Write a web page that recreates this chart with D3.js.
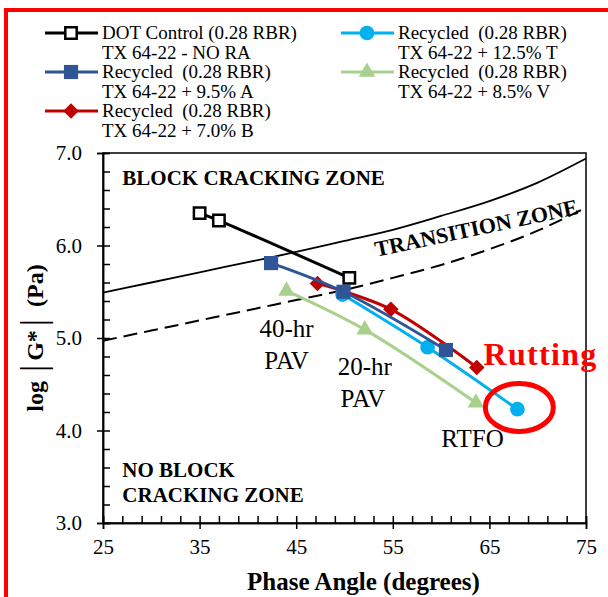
<!DOCTYPE html>
<html>
<head>
<meta charset="utf-8">
<script src="https://cdn.jsdelivr.net/npm/d3@7"></script>
<style>
  body { margin: 0; background: #fff; }
  text { font-family: "Liberation Serif", "Times New Roman", serif; white-space: pre; }
</style>
</head>
<body>
<div id="chart"></div>
<script>
// zone boundary curves (phase angle vs log|G*|)
const zoneAngle = [25, 30, 35, 40, 45, 50, 55, 60, 65, 70, 75];
const zoneUpper = [5.49, 5.60, 5.71, 5.82, 5.93, 6.05, 6.17, 6.32, 6.48, 6.68, 6.94];
const zoneLower = [4.97, 5.08, 5.19, 5.30, 5.41, 5.52, 5.65, 5.79, 5.96, 6.16, 6.41];

// binder series (40-hr PAV, 20-hr PAV, RTFO)
const dotAngle = [35.0, 37.0, 50.5];
const dotLogG = [6.35, 6.27, 5.65];
const aAngle = [42.4, 49.9, 60.5];
const aLogG = [5.81, 5.50, 4.87];
const tAngle = [49.8, 58.6, 67.9];
const tLogG = [5.47, 4.90, 4.23];
const vAngle = [44.0, 52.1, 63.6];
const vLogG = [5.51, 5.09, 4.30];
const bAngle = [47.2, 54.8, 63.7];
const bLogG = [5.59, 5.31, 4.68];

const xMajor = [25, 35, 45, 55, 65, 75];
const yMajor = [3, 4, 5, 6, 7];

const width = 608, height = 597;
const m = { top: 153, right: 22, bottom: 74, left: 103 };

const svg = d3.select('#chart').append('svg')
	.attr('width', width)
	.attr('height', height);

// red frame round the figure
svg.append('rect')
	.attr('x', 6).attr('y', 10)
	.attr('width', 640).attr('height', 640)
	.attr('fill', 'none')
	.attr('stroke', '#ff0000')
	.attr('stroke-width', 4);

const x = d3.scaleLinear().domain([25, 75]).range([m.left, width - m.right]);
const y = d3.scaleLinear().domain([3, 7]).range([height - m.bottom, m.top]);

const series = [
	{ name: 'DOT Control (0.28 RBR)', sub: 'TX 64-22 - NO RA', xs: dotAngle, ys: dotLogG, color: '#000000', marker: 'open' },
	{ name: 'Recycled  (0.28 RBR)', sub: 'TX 64-22 + 12.5% T', xs: tAngle, ys: tLogG, color: '#00b0f0', marker: 'circle' },
	{ name: 'Recycled  (0.28 RBR)', sub: 'TX 64-22 + 8.5% V', xs: vAngle, ys: vLogG, color: '#a9d18e', marker: 'triangle' },
	{ name: 'Recycled  (0.28 RBR)', sub: 'TX 64-22 + 7.0% B', xs: bAngle, ys: bLogG, color: '#c00000', marker: 'diamond' },
	{ name: 'Recycled  (0.28 RBR)', sub: 'TX 64-22 + 9.5% A', xs: aAngle, ys: aLogG, color: '#2f5597', marker: 'square' }
];

function drawMarker(g, type, color) {
	if (type === 'open') {
		g.append('path').attr('d', d3.symbol(d3.symbolSquare, 130)())
			.attr('fill', '#fff').attr('stroke', color).attr('stroke-width', 2.5);
	} else if (type === 'square') {
		g.append('path').attr('d', d3.symbol(d3.symbolSquare, 200)()).attr('fill', color);
	} else if (type === 'circle') {
		g.append('path').attr('d', d3.symbol(d3.symbolCircle, 170)()).attr('fill', color);
	} else if (type === 'triangle') {
		g.append('path').attr('d', d3.symbol(d3.symbolTriangle, 120)()).attr('fill', color);
	} else if (type === 'diamond') {
		g.append('path').attr('d', d3.symbol(d3.symbolSquare, 120)())
			.attr('transform', 'rotate(45)').attr('fill', color);
	}
}

// plot box
svg.append('rect')
	.attr('x', m.left).attr('y', m.top)
	.attr('width', x(75) - x(25)).attr('height', y(3) - y(7))
	.attr('fill', 'none').attr('stroke', '#000').attr('stroke-width', 1.5);

// zone boundaries
const zoneLine = d3.line()
	.x((d, i) => x(zoneAngle[i]))
	.y(d => y(d))
	.curve(d3.curveMonotoneX);

svg.append('path')
	.attr('d', zoneLine(zoneUpper))
	.attr('fill', 'none').attr('stroke', '#000').attr('stroke-width', 1.8);

svg.append('path')
	.attr('d', zoneLine(zoneLower))
	.attr('fill', 'none').attr('stroke', '#000').attr('stroke-width', 2)
	.attr('stroke-dasharray', '14,7');

// series lines + markers
const seriesLine = d3.line()
	.x(d => x(d[0]))
	.y(d => y(d[1]))
	.curve(d3.curveCatmullRom.alpha(0.5));

series.forEach(s => {
	const pts = s.xs.map((v, i) => [v, s.ys[i]]);
	svg.append('path')
		.attr('d', seriesLine(pts))
		.attr('fill', 'none')
		.attr('stroke', s.color)
		.attr('stroke-width', 3);
	pts.forEach(p => {
		const g = svg.append('g').attr('transform', `translate(${x(p[0])},${y(p[1])})`);
		drawMarker(g, s.marker, s.color);
	});
});

// axes: major ticks cross the line, minor ticks point inward
svg.append('g')
	.attr('transform', `translate(0,${y(3)})`)
	.call(d3.axisBottom(x).tickValues(xMajor).tickSize(6).tickPadding(10).tickFormat(d3.format('d')));
svg.append('g')
	.attr('transform', `translate(0,${y(3)})`)
	.call(d3.axisBottom(x).tickValues(d3.range(25, 76, 2)).tickSize(-7).tickFormat(''));

svg.append('g')
	.attr('transform', `translate(${x(25)},0)`)
	.call(d3.axisLeft(y).tickValues(yMajor).tickSize(6).tickPadding(15).tickFormat(d3.format('.1f')));
svg.append('g')
	.attr('transform', `translate(${x(25)},0)`)
	.call(d3.axisLeft(y).tickValues(d3.range(30, 71, 2).map(v => v / 10)).tickSize(-7).tickFormat(''));

svg.selectAll('.domain').attr('stroke', '#000').attr('stroke-width', 1.5);
svg.selectAll('.tick line').attr('stroke', '#000').attr('stroke-width', 1.5);
svg.selectAll('.tick text')
	.attr('font-family', '"Liberation Serif", serif')
	.attr('font-size', 21)
	.attr('fill', '#000');

// axis titles
svg.append('text')
	.attr('x', 247)
	.attr('y', 590)
	.attr('font-size', 25)
	.attr('font-weight', 'bold')
	.text('Phase Angle (degrees)');

const yTitle = svg.append('text')
	.attr('transform', `translate(43,${(y(3) + y(7)) / 2}) rotate(-90)`)
	.attr('text-anchor', 'middle')
	.attr('font-size', 24)
	.attr('font-weight', 'bold');
yTitle.append('tspan').text('log');
yTitle.append('tspan').attr('dx', 9).attr('font-size', 36).attr('font-weight', 'normal').attr('dy', 2).text('|');
yTitle.append('tspan').attr('dx', 4).attr('dy', -2).text('G*');
yTitle.append('tspan').attr('dx', 4).attr('font-size', 36).attr('font-weight', 'normal').attr('dy', 2).text('|');
yTitle.append('tspan').attr('dx', 12).attr('dy', -2).text('(Pa)');

// zone labels
const bold = (t, xv, yv, size) => svg.append('text')
	.attr('x', x(xv)).attr('y', y(yv))
	.attr('font-size', size).attr('font-weight', 'bold')
	.text(t);
bold('BLOCK CRACKING ZONE', 27.0, 6.65, 21);
bold('NO BLOCK', 27.0, 3.50, 21);
bold('CRACKING ZONE', 27.0, 3.23, 21);

svg.append('text')
	.attr('transform', `translate(${x(63.8)},${y(6.11)}) rotate(-12)`)
	.attr('text-anchor', 'middle')
	.attr('font-size', 22).attr('font-weight', 'bold')
	.text('TRANSITION ZONE');

// aging labels
const plain = (t, xv, yv) => svg.append('text')
	.attr('x', x(xv)).attr('y', y(yv))
	.attr('text-anchor', 'middle')
	.attr('font-size', 25)
	.text(t);
plain('40-hr', 44.0, 5.01);
plain('PAV', 44.0, 4.665);
plain('20-hr', 52.1, 4.60);
plain('PAV', 51.9, 4.254);
plain('RTFO', 63.25, 3.82);

// rutting callout
svg.append('ellipse')
	.attr('cx', x(68.1)).attr('cy', y(4.25))
	.attr('rx', 34).attr('ry', 24)
	.attr('fill', 'none').attr('stroke', '#ff0000').attr('stroke-width', 5);
svg.append('text')
	.attr('x', x(64.4)).attr('y', y(4.71))
	.attr('font-family', '"Liberation Sans", Arial, sans-serif')
	.attr('font-size', 32).attr('font-weight', 'bold')
	.attr('letter-spacing', 1.3)
	.attr('fill', '#ff0000')
	.text('Rutting');

// legend, two columns
const legendPos = [
	{ s: 0, lx: 45, ly: 33 },
	{ s: 4, lx: 45, ly: 72 },
	{ s: 3, lx: 45, ly: 111 },
	{ s: 1, lx: 341, ly: 33 },
	{ s: 2, lx: 341, ly: 72 }
];
legendPos.forEach(p => {
	const s = series[p.s];
	const g = svg.append('g').attr('transform', `translate(${p.lx},${p.ly})`);
	g.append('line').attr('x1', 0).attr('x2', 53).attr('y1', 0).attr('y2', 0)
		.attr('stroke', s.color).attr('stroke-width', 3);
	const mk = g.append('g').attr('transform', 'translate(26,0)');
	drawMarker(mk, s.marker, s.color);
	g.append('text').attr('x', 57).attr('y', 6).attr('font-size', 19).text(s.name);
	g.append('text').attr('x', 57).attr('y', 25.5).attr('font-size', 19).text(s.sub);
});
</script>
</body>
</html>
